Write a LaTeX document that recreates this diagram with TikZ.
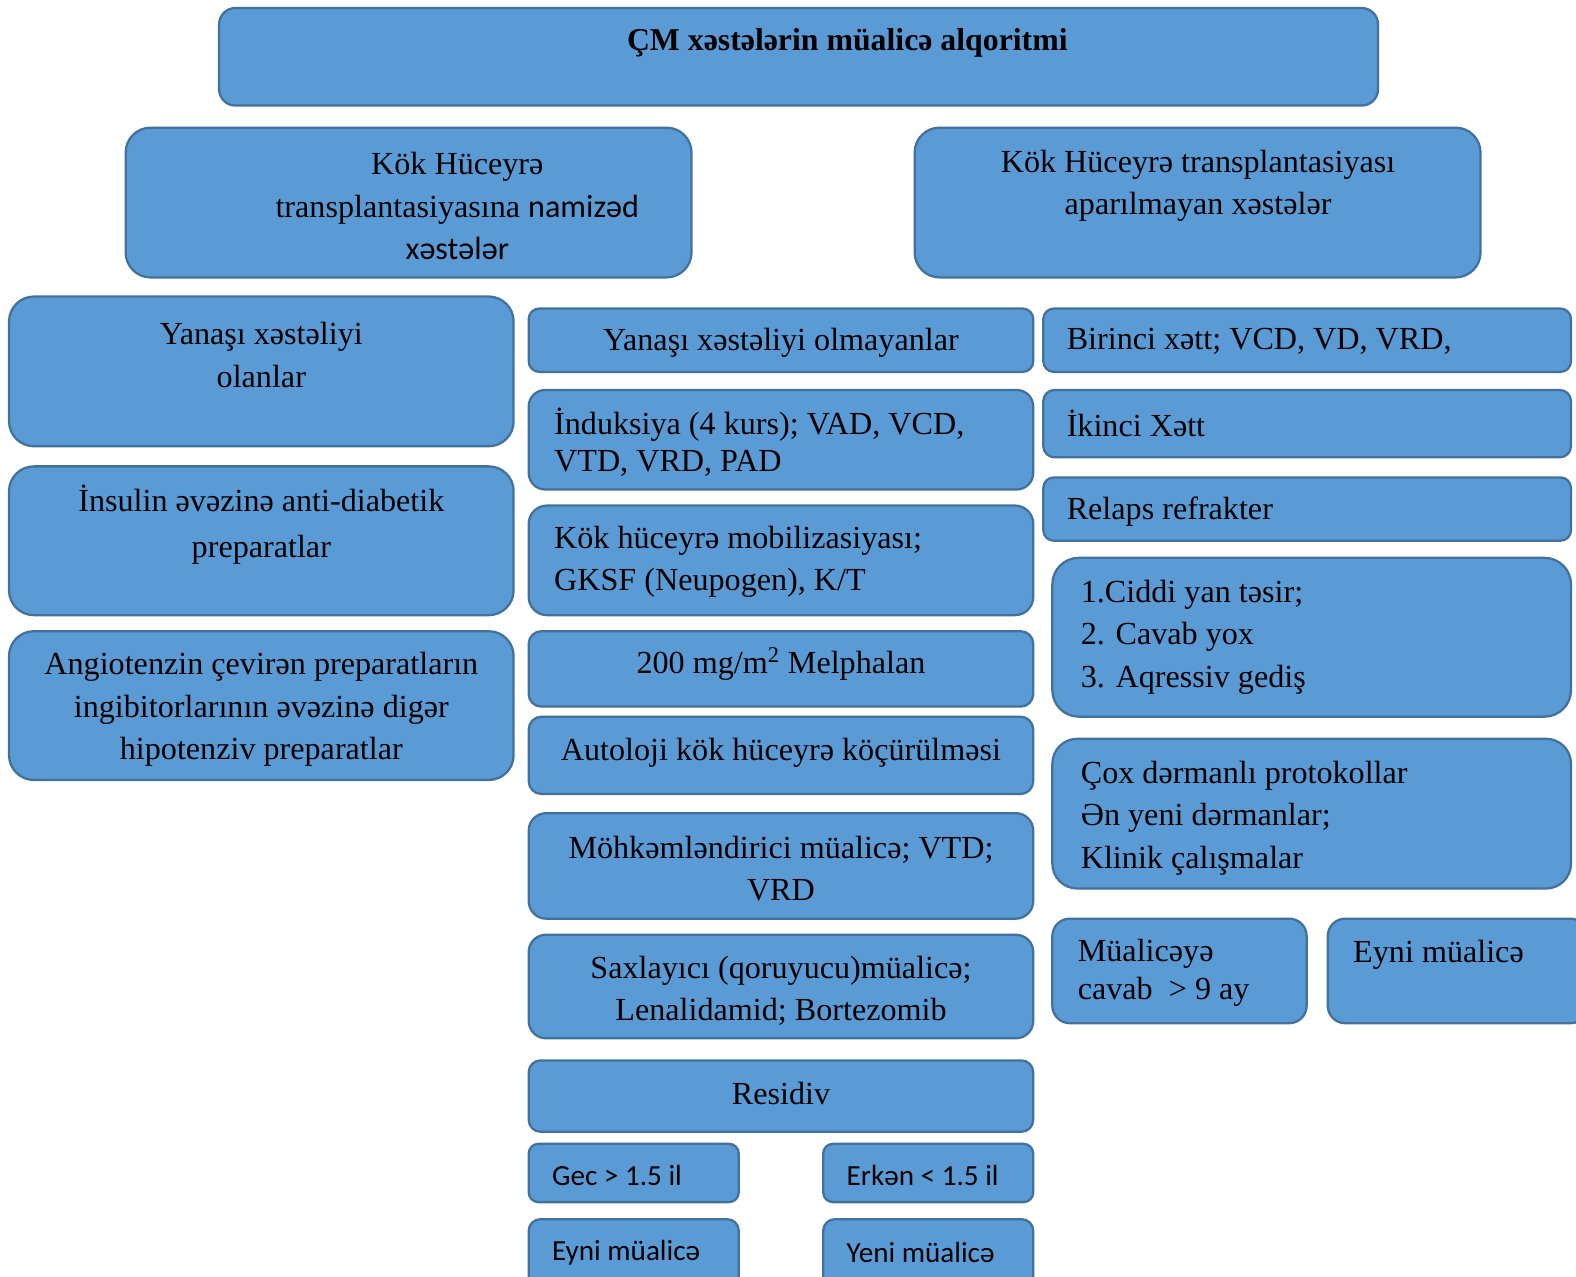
\documentclass[tikz,border=0pt]{standalone}
\usepackage{fontspec}
\setmainfont{Liberation Serif}
\newfontfamily\calibri{Carlito}
\definecolor{boxfill}{HTML}{5B9BD5}
\definecolor{boxline}{HTML}{41719C}

% Прямоугольник со скруглением, пропорциональным высоте
\newcommand{\panel}[4]{%
  \pgfmathsetmacro{\panelrad}{min((#4-#2),(#3-#1))/6*0.2}%
  \draw[box, rounded corners=\panelrad mm] (#1,#2) rectangle (#3,#4);}

\begin{document}
\begin{tikzpicture}[
  x=0.2mm, y=-0.2mm,
  line join=round,
  box/.style={draw=boxline, fill=boxfill, line width=0.45mm},
  lbl/.style={inner sep=0pt, align=center, font=\fontsize{18.2}{24}\selectfont},
  lbll/.style={lbl, align=left, anchor=west},
  sanslbl/.style={inner sep=0pt, anchor=west, font=\calibri\fontsize{16.5}{20}\selectfont}
]
  \useasboundingbox (0,0) rectangle (1568,1270);

  % Заголовок
  \panel{218}{8}{1371}{105}
  \node[lbl, font=\bfseries\fontsize{18}{24}\selectfont] (title) at (843,43)
    {ÇM xəstələrin müalicə alqoritmi};

  % Две группы больных
  \panel{125}{127}{688}{276}
  \panel{910}{127}{1473}{276}
  \node[lbl] (candidate) at (455,205)
    {Kök Hüceyrə\\transplantasiyasına {\calibri namizəd}\\{\calibri xəstələr}};
  \node[lbl] (noncandidate) at (1192,185)
    {Kök Hüceyrə transplantasiyası\\aparılmayan xəstələr};

  % Левый столбец
  \panel{9}{295}{511}{444}
  \panel{9}{464}{511}{612}
  \panel{9}{628}{511}{776}
  \node[lbl] (comorb) at (260,353) {Yanaşı xəstəliyi\\olanlar};
  \node[lbl, font=\fontsize{18.2}{26}\selectfont] (insulin) at (260,522)
    {İnsulin əvəzinə anti-diabetik\\preparatlar};
  \node[lbl] (ace) at (260,706)
    {Angiotenzin çevirən preparatların\\ingibitorlarının əvəzinə digər\\hipotenziv preparatlar};

  % Средний столбец
  \panel{526}{307}{1028}{370}
  \panel{526}{388}{1028}{487}
  \panel{526}{503}{1028}{612}
  \panel{526}{628}{1028}{703}
  \panel{526}{713}{1028}{790}
  \panel{526}{809}{1028}{914}
  \panel{526}{930}{1028}{1033}
  \panel{526}{1055}{1028}{1126}
  \node[lbl] (nocomorb) at (777,341) {Yanaşı xəstəliyi olmayanlar};
  \node[lbll, font=\fontsize{18.2}{20.5}\selectfont] (induction) at (551,440)
    {İnduksiya (4 kurs); VAD, VCD,\\VTD, VRD, PAD};
  \node[lbll] (mobil) at (551,559)
    {Kök hüceyrə mobilizasiyası;\\GKSF (Neupogen), K/T};
  \node[lbl] (melph) at (777,661) {200 mg/m\textsuperscript{2} Melphalan};
  \node[lbl] (auto) at (777,749) {Autoloji kök hüceyrə köçürülməsi};
  \node[lbl] (consol) at (777,864) {Möhkəmləndirici müalicə; VTD;\\VRD};
  \node[lbl] (maint) at (777,986)
    {Saxlayıcı (qoruyucu)müalicə;\\Lenalidamid; Bortezomib};
  \node[lbl] (relapse) at (777,1088) {Residiv};

  % Рецидив: поздний и ранний
  \panel{526}{1138}{735}{1196}
  \panel{819}{1138}{1028}{1196}
  \panel{526}{1213}{735}{1282}
  \panel{819}{1213}{1028}{1282}
  \node[sanslbl] (late) at (549,1170) {Gec > 1.5 il};
  \node[sanslbl] (early) at (842,1170) {Erkən < 1.5 il};
  \node[sanslbl] (sameL) at (549,1246) {Eyni müalicə};
  \node[sanslbl] (newL) at (842,1246) {Yeni müalicə};

  % Правый столбец
  \panel{1038}{307}{1563}{370}
  \panel{1038}{388}{1563}{455}
  \panel{1038}{475}{1563}{538}
  \panel{1047}{555}{1563}{713}
  \panel{1047}{735}{1563}{884}
  \panel{1047}{914}{1300}{1018}
  \panel{1321}{914}{1580}{1018}
  \node[lbll] (first) at (1061,340) {Birinci xətt; VCD, VD, VRD,};
  \node[lbll] (second) at (1061,421) {İkinci Xətt};
  \node[lbll] (refract) at (1061,509) {Relaps refrakter};
  \node[lbll] (severe) at (1075,634)
    {1.Ciddi yan təsir;\\2. Cavab yox\\3. Aqressiv gediş};
  \node[lbll] (multi) at (1075,814)
    {Çox dərmanlı protokollar\\Ən yeni dərmanlar;\\Klinik çalışmalar};
  \node[lbll, font=\fontsize{18.2}{21.5}\selectfont] (response) at (1072,968)
    {Müalicəyə\\cavab\ \ > 9 ay};
  \node[lbll] (sameR) at (1346,950) {Eyni müalicə};
\end{tikzpicture}
\end{document}
